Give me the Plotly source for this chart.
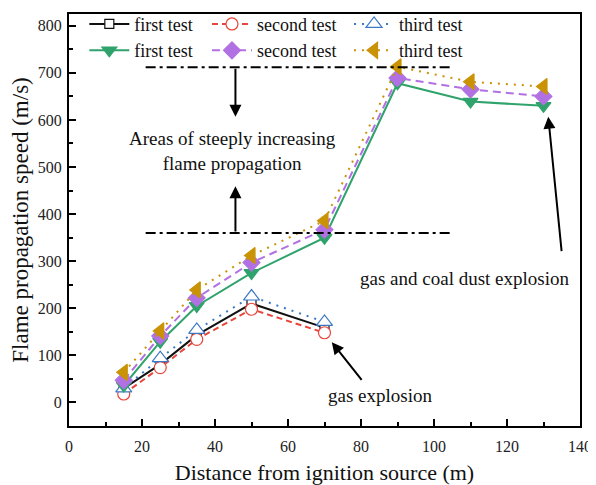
import plotly.graph_objects as go

x_gas = [15, 25, 35, 50, 70]
x_coal = [15, 25, 35, 50, 70, 90, 110, 130]

gas_first = [30, 81, 143, 210, 159]
gas_second = [18, 74, 134, 198, 148]
gas_third = [30, 94, 154, 225, 171]

coal_first = [36, 129, 205, 275, 350, 678, 639, 630]
coal_second = [47, 141, 222, 297, 367, 689, 665, 650]
coal_third = [64, 152, 239, 312, 386, 713, 681, 671]

band_x = [21, 105]
band_y = [712, 360]

FONT = "Liberation Serif"

fig = go.Figure()

def add(x, y, name, color, dash, symbol, size, filled, legend):
    fig.add_trace(go.Scatter(
        x=x, y=y, name=name, mode="lines+markers", legend=legend,
        line=dict(color=color, width=2, dash=dash),
        marker=dict(symbol=symbol, size=size,
                    color=color if filled else "white",
                    line=dict(color=color, width=1.2)),
    ))

add(x_gas, gas_first, "first test", "#111111", "solid", "square", 9, False, "legend")
add(x_gas, gas_second, "second test", "#e8463c", "6px,4px", "circle", 12, False, "legend2")
add(x_gas, gas_third, "third test", "#3d78c4", "2px,6px", "triangle-up", 14, False, "legend3")
add(x_coal, coal_first, "first test", "#2fa36b", "solid", "triangle-down", 13, True, "legend")
add(x_coal, coal_second, "second test", "#b271e3", "8px,5px", "diamond", 13, True, "legend2")
add(x_coal, coal_third, "third test", "#c99305", "2px,6px", "triangle-left", 14, True, "legend3")

for yv in band_y:
    fig.add_shape(type="line", xref="x", yref="y", x0=band_x[0], x1=band_x[1],
                  y0=yv, y1=yv, line=dict(color="black", width=2, dash="10px,4px,3px,4px"))

arrows = [
    (45.6, 607, 45.6, 712),
    (45.6, 459, 45.6, 360),
    (72, 128, 80.5, 45),
    (131.3, 607, 135, 318),
]
for (tx, ty, ax, ay) in arrows:
    fig.add_annotation(x=tx, y=ty, ax=ax, ay=ay, xref="x", yref="y", axref="x", ayref="y",
                       text="", showarrow=True, arrowhead=2, arrowsize=1.2,
                       arrowwidth=2, arrowcolor="black")

texts = [
    (44.9, 534, "Areas of steeply increasing<br>flame propagation"),
    (85.2, 14, "gas explosion"),
    (108.3, 264, "gas and coal dust explosion"),
]
for (tx, ty, t) in texts:
    fig.add_annotation(x=tx, y=ty, xref="x", yref="y", text=t, showarrow=False,
                       font=dict(family=FONT, size=19, color="#111"))

axis_common = dict(
    showline=True, linecolor="black", linewidth=2, mirror=True,
    ticks="inside", ticklen=7, tickwidth=2, tickcolor="black",
    showgrid=False, zeroline=False, automargin=False,
    tickfont=dict(family=FONT, size=16, color="#222"),
)

fig.update_xaxes(range=[0, 140], tickmode="array", tickvals=list(range(0, 141, 20)),
                 minor=dict(tickvals=list(range(10, 140, 20)), ticks="inside", ticklen=4,
                            tickwidth=2, tickcolor="black"),
                 ticklabelstandoff=5,
                 title=dict(text="Distance from ignition source (m)",
                            font=dict(family=FONT, size=22, color="#111"), standoff=15),
                 **axis_common)
fig.update_yaxes(range=[-50, 825], tickmode="array", tickvals=list(range(0, 801, 100)),
                 minor=dict(tickvals=list(range(50, 800, 100)), ticks="inside", ticklen=4,
                            tickwidth=2, tickcolor="black"),
                 ticklabelstandoff=2,
                 title=dict(text="Flame propagation speed (m/s)",
                            font=dict(family=FONT, size=23, color="#111"), standoff=6),
                 **axis_common)

leg = dict(font=dict(family=FONT, size=18, color="#111"), bgcolor="rgba(0,0,0,0)",
           orientation="v", yanchor="top", xanchor="left", tracegroupgap=0,
           itemwidth=40, borderwidth=0)
fig.update_layout(
    width=588, height=477,
    margin=dict(l=61, r=16, t=6, b=59, autoexpand=False),
    plot_bgcolor="white", paper_bgcolor="white",
    font=dict(family=FONT),
    legend=dict(x=0.03, y=1.02, **leg),
    legend2=dict(x=0.27, y=1.02, **leg),
    legend3=dict(x=0.548, y=1.02, **leg),
)

fig.write_html("out.html")
